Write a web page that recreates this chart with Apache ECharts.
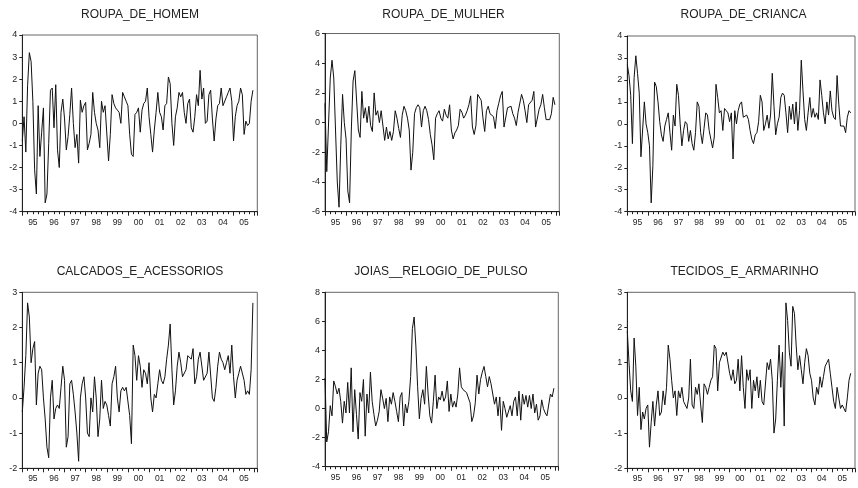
<!DOCTYPE html>
<html><head><meta charset="utf-8">
<script src="https://cdn.jsdelivr.net/npm/echarts@6/dist/echarts.min.js"></script>
<style>html,body{margin:0;padding:0;background:#fff}#c{width:858px;height:488px}</style>
</head><body><div id="c"></div>
<script>
// ---- data ----
const yearLabels = ['95','96','97','98','99','00','01','02','03','04','05'];
const titles = ['ROUPA_DE_HOMEM','ROUPA_DE_MULHER','ROUPA_DE_CRIANCA','CALCADOS_E_ACESSORIOS','JOIAS__RELOGIO_DE_PULSO','TECIDOS_E_ARMARINHO'];

const roupaHomem = [
-0.8,0.3,-1.3,1.7,3.2,2.8,1.0,-2.1,-3.2,0.8,-1.5,-0.4,
0.7,-3.6,-3.2,-0.9,1.5,1.6,-0.2,1.75,-1.2,-2.0,0.5,1.1,
0.2,-1.2,-0.6,0.4,1.6,0.0,-1.1,-0.5,-1.8,1.05,0.5,0.8,
0.95,-1.2,-0.9,-0.5,1.4,0.5,0.0,-0.3,-1.1,1.0,0.5,0.8,
0.75,-1.7,-0.5,1.3,0.9,0.7,0.6,0.5,0.0,1.4,1.2,1.0,
0.8,-0.5,-1.4,-1.5,0.4,0.5,0.7,-0.4,0.6,0.9,1.0,1.6,
0.3,-0.5,-1.3,-0.3,0.5,1.4,0.5,0.3,-0.3,0.8,0.9,2.1,
1.8,0.0,-1.0,0.3,0.7,1.4,1.2,1.4,0.5,0.0,0.9,1.1,
-0.2,-0.4,0.3,1.3,0.8,2.4,1.1,1.6,0.0,0.1,1.3,1.5,
0.2,-0.8,0.2,0.8,0.9,1.6,0.8,0.8,1.2,1.4,1.6,1.0,
-0.8,0.3,0.8,1.0,1.6,1.3,-0.5,0.1,-0.1,0.0,1.0,1.5];

const roupaMulher = [
1.3,-3.3,-3.2,3.0,4.2,3.0,-0.5,-4.0,-5.7,-1.5,1.9,0.0,
-1.1,-4.6,-5.4,-0.5,2.8,3.5,3.6,-0.5,-1.0,2.1,0.3,1.0,
0.0,1.1,-0.2,-0.6,2.0,0.5,0.8,0.0,0.8,0.9,-1.2,-0.3,
-1.1,-0.6,-1.2,-0.6,0.8,0.3,-0.4,-1.0,0.5,1.1,0.8,0.3,
-0.5,-3.2,-2.0,0.6,1.0,1.2,1.0,-0.3,0.8,1.1,0.8,0.2,
-0.8,-1.5,-2.5,0.3,0.6,0.8,0.3,0.1,0.9,0.5,0.3,1.2,
-0.5,-1.1,-0.7,-0.5,-0.2,0.9,0.7,0.3,0.5,0.8,1.2,1.8,
-0.3,-0.8,-0.2,1.9,1.8,1.5,0.3,-0.6,0.8,1.1,0.6,0.5,
0.4,-0.4,0.8,1.3,1.8,2.1,-0.3,-0.2,1.0,1.1,1.1,0.6,
0.3,-0.2,0.7,0.7,1.9,1.5,0.8,0.0,1.2,1.3,1.5,2.1,
-0.3,-0.4,0.9,1.2,1.9,1.0,0.2,0.1,0.2,0.6,1.7,1.2];

const roupaCrianca = [
2.7,2.2,1.3,-0.9,2.1,3.1,2.3,1.4,-1.5,-1.5,1.0,0.0,
-0.4,-1.0,-3.6,-1.9,1.9,1.7,1.0,0.1,-0.5,-0.8,-0.1,0.2,
0.5,-0.4,-1.2,0.4,-0.1,1.8,1.3,0.0,-1.0,-0.3,0.1,0.0,
-0.8,-0.3,-0.9,-1.2,-0.4,1.0,0.8,-0.4,-0.9,-0.2,0.5,0.4,
-0.3,-0.7,-1.1,-0.6,1.8,1.2,0.5,0.6,-0.3,0.7,0.6,0.5,
0.1,0.5,-1.6,0.6,0.0,0.6,0.9,1.0,0.3,0.3,0.4,0.2,
-0.3,-0.7,-0.9,-0.5,-0.4,0.1,1.3,1.0,-0.3,0.0,0.4,-0.2,
0.4,2.3,0.8,-0.5,0.0,0.3,1.2,1.4,1.3,0.5,-0.4,0.8,
0.2,0.9,0.0,1.0,-0.3,0.6,2.9,1.5,0.2,-0.3,0.5,1.2,
0.3,0.7,0.3,0.5,0.2,2.0,1.3,0.5,0.0,1.0,0.4,1.5,
0.6,0.3,0.2,2.2,0.9,-0.1,-0.1,-0.1,-0.4,0.3,0.6,0.5];

const calcados = [
-0.4,0.3,1.2,2.7,2.3,1.0,1.4,1.6,-0.2,0.7,0.9,0.8,
0.0,-0.6,-1.4,-1.7,0.0,0.5,-0.6,-0.3,-0.2,-0.3,0.3,0.9,
0.5,-1.4,-1.1,0.4,0.5,0.1,-0.4,-1.0,-1.8,0.0,0.4,0.6,
0.0,-1.0,-1.1,0.0,-0.4,0.6,0.0,-1.1,-0.6,0.5,-0.3,-0.1,
-0.2,-0.5,-0.8,0.4,0.6,0.9,0.0,-0.4,0.2,0.3,0.2,0.3,
0.3,-0.5,-1.3,1.5,1.2,0.5,1.2,0.9,0.3,0.8,0.7,0.4,
1.0,0.0,-0.4,0.1,0.0,0.4,0.8,0.5,0.4,0.6,1.1,1.5,
2.1,0.8,-0.2,0.2,0.9,1.3,1.0,0.6,0.6,0.8,1.2,1.2,
1.1,1.4,0.4,0.6,1.1,1.3,1.3,0.5,0.5,0.7,1.3,1.3,
0.0,-0.1,0.3,0.9,1.3,1.1,1.0,0.8,1.0,1.2,0.7,1.5,
0.6,0.0,0.5,0.7,0.9,0.9,0.5,0.1,0.2,0.1,0.8,2.7];

const joias = [
2.1,-2.3,-1.6,0.2,-0.5,1.9,1.5,1.0,1.4,0.5,-1.0,0.5,
-0.3,1.8,-0.3,2.8,-1.6,1.3,-0.4,-2.1,1.1,0.5,2.0,-1.9,
1.0,-0.3,2.5,0.5,-0.4,-1.2,-0.8,-0.2,1.3,0.7,0.0,0.7,
-0.9,0.8,0.3,1.1,0.5,-0.2,-0.9,0.8,1.1,-1.2,0.3,-0.3,
0.5,2.2,5.5,6.3,4.3,1.5,-0.7,0.7,1.3,0.3,2.9,1.0,
-0.5,-1.0,0.5,2.3,0.0,0.8,0.6,1.2,0.5,0.8,1.9,-0.2,
1.0,0.1,0.5,0.1,1.0,2.8,1.5,1.3,1.2,1.1,1.0,0.4,
-0.9,-0.5,0.4,2.3,1.0,2.0,2.5,2.9,2.2,1.5,2.2,1.7,
1.0,0.3,0.8,-0.5,0.8,-1.5,0.5,0.0,-0.6,-0.6,0.2,-0.5,
0.5,0.8,-0.5,1.2,-0.8,1.0,0.3,0.9,0.1,0.9,0.0,1.0,
-0.3,0.3,-0.8,-0.5,0.6,0.0,-0.3,-0.5,-0.4,1.0,0.8,1.4];

const tecidos = [
1.9,1.0,0.2,-0.1,1.7,0.9,-0.5,0.3,-0.9,-0.4,-0.6,-0.3,
-0.2,-1.4,-0.7,-0.1,-0.8,-0.2,0.2,-0.5,-0.4,0.2,-0.2,0.3,
1.5,1.1,0.5,0.0,0.2,-0.5,0.2,0.0,0.3,-0.1,-0.2,-0.3,
0.0,1.1,-0.2,-0.3,0.3,0.1,0.4,-0.2,-0.7,0.4,0.3,0.1,
0.3,0.5,0.6,1.5,1.4,0.2,1.0,1.0,1.3,1.2,1.3,1.3,
0.7,0.5,0.8,0.4,0.5,1.1,0.2,1.2,0.3,-0.3,0.8,0.5,
0.8,-0.3,0.5,0.2,0.6,0.0,0.5,-0.1,-0.2,-0.2,1.0,0.8,
1.1,0.5,-1.0,-0.6,0.5,1.5,0.3,1.3,-0.8,2.7,2.2,1.3,
0.9,2.6,2.4,1.5,0.8,1.2,0.8,0.4,1.0,1.4,1.2,0.7,
0.5,0.0,-0.2,0.3,0.1,0.6,0.3,0.6,0.9,1.0,1.1,0.7,
0.3,-0.1,-0.3,0.3,0.3,-0.3,-0.2,-0.3,-0.4,0.0,0.5,0.7];

const seriesList = [roupaHomem, roupaMulher, roupaCrianca, calcados, joias, tecidos];

// ---- layout ----
const panels = [
  {left:22.3, top:35,    width:235,   height:176.7, min:-4, max:4, step:1, tx:140,   ty:9},
  {left:325,  top:33.5,  width:234.3, height:178.2, min:-6, max:6, step:2, tx:443.5, ty:9},
  {left:627.3,top:36,    width:235,   height:175.7, min:-4, max:4, step:1, tx:743.5, ty:9},
  {left:22.3, top:292.3, width:235,   height:176,   min:-2, max:3, step:1, tx:140,   ty:266},
  {left:325,  top:292.3, width:233.3, height:174.4, min:-4, max:8, step:2, tx:441,   ty:266},
  {left:627.3,top:292.3, width:235,   height:176,   min:-2, max:3, step:1, tx:744.5, ty:266}
];
const XMAX = 133.5;
const FONT = 'Liberation Sans, Arial, sans-serif';
const axisCol = '#222';

const option = {
  animation:false,
  backgroundColor:'#fff',
  title: panels.map((p,i)=>({
    text: titles[i], left:p.tx, top:p.ty, textAlign:'center', padding:0,
    textStyle:{fontFamily:FONT, fontSize:12, fontWeight:'normal', color:'#222'}
  })),
  grid: panels.map(p=>({left:p.left, top:p.top, width:p.width, height:p.height,
    show:true, borderColor:'#666', borderWidth:1, backgroundColor:'transparent', containLabel:false})),
  xAxis: [],
  yAxis: panels.map((p,i)=>({
    type:'value', gridIndex:i, min:p.min, max:p.max, interval:p.step,
    axisLine:{show:true, lineStyle:{color:axisCol, width:1}},
    axisTick:{show:true, inside:false, length:3, lineStyle:{color:axisCol}},
    splitLine:{show:false},
    axisLabel:{fontFamily:FONT, fontSize:9, color:'#222', margin:5,
      formatter:v=>String(v)}
  })),
  series: []
};

panels.forEach((p,i)=>{
  option.xAxis.push({
    type:'value', gridIndex:i, min:0, max:XMAX, interval:12,
    axisLine:{show:true, onZero:false, lineStyle:{color:axisCol, width:1}},
    axisTick:{show:true, inside:false, length:4, lineStyle:{color:axisCol}},
    minorTick:{show:true, splitNumber:4, length:2.5, lineStyle:{color:axisCol}},
    splitLine:{show:false}, minorSplitLine:{show:false},
    axisLabel:{show:false}
  });
  option.xAxis.push({
    type:'value', gridIndex:i, min:0, max:XMAX, interval:6, position:'bottom',
    axisLine:{show:false, onZero:false}, axisTick:{show:false}, splitLine:{show:false},
    axisLabel:{show:true, fontFamily:FONT, fontSize:8.5, color:'#222', margin:6,
      showMinLabel:true, showMaxLabel:true,
      formatter:v=>{ if (v%12===6){ const k=(v-6)/12; return yearLabels[k]||''; } return ''; }}
  });
  option.series.push({
    type:'line', xAxisIndex:2*i, yAxisIndex:i, showSymbol:false, symbol:'none',
    lineStyle:{color:'#111', width:1}, silent:true,
    data: seriesList[i].map((v,k)=>[k,v])
  });
});

const chart = echarts.init(document.getElementById('c'), null, {renderer:'canvas'});
chart.setOption(option);
</script></body></html>
